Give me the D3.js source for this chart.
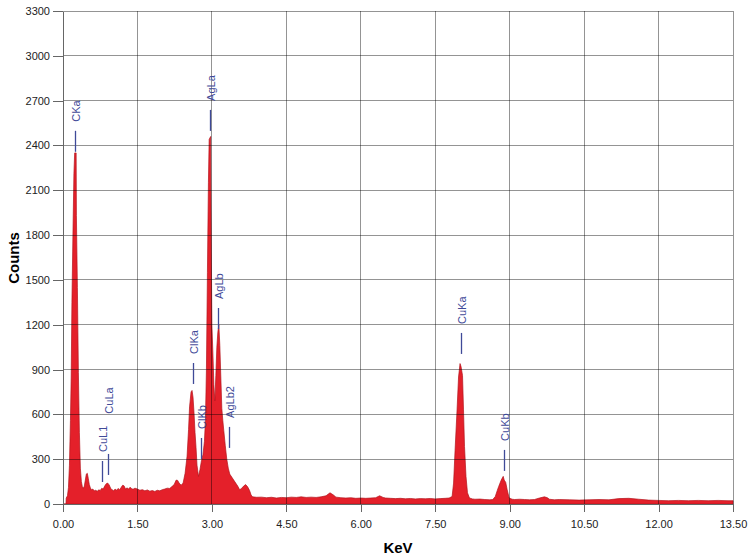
<!DOCTYPE html>
<html>
<head>
<meta charset="utf-8">
<script src="https://cdn.jsdelivr.net/npm/d3@7"></script>
<style>
  body { margin: 0; background: #fff; }
  svg { display: block; font-family: Arial, "Liberation Sans", sans-serif; }
</style>
</head>
<body>
<svg id="chart" width="754" height="558"></svg>
<script>
// EDS spectrum (keV vs counts)
const energyKeV = [
  0.00, 0.06, 0.065, 0.09, 0.11, 0.13, 0.15, 0.165, 0.18, 0.20, 0.22, 0.235, 0.265, 0.27, 0.29, 0.31, 0.33, 0.35, 0.37, 0.39,
  0.41, 0.43, 0.45, 0.47, 0.49, 0.51, 0.53, 0.55, 0.57, 0.60, 0.63, 0.66, 0.69, 0.72, 0.75, 0.78, 0.81, 0.84, 0.87, 0.90,
  0.93, 0.96, 0.99, 1.02, 1.05, 1.08, 1.11, 1.14, 1.17, 1.20, 1.23, 1.26, 1.29, 1.32, 1.35, 1.38, 1.41, 1.45, 1.50, 1.55,
  1.60, 1.65, 1.70, 1.75, 1.80, 1.85, 1.90, 1.95, 2.00, 2.05, 2.10, 2.15, 2.20, 2.24, 2.28, 2.31, 2.34, 2.38, 2.42, 2.46,
  2.50, 2.53, 2.55, 2.58, 2.60, 2.62, 2.64, 2.66, 2.68, 2.70, 2.73, 2.76, 2.79, 2.82, 2.85, 2.87, 2.89, 2.91, 2.93, 2.945,
  2.975, 2.98, 2.99, 3.00, 3.02, 3.04, 3.06, 3.08, 3.10, 3.12, 3.14, 3.16, 3.18, 3.20, 3.22, 3.24, 3.27, 3.30, 3.33, 3.36,
  3.40, 3.44, 3.48, 3.52, 3.56, 3.60, 3.64, 3.68, 3.72, 3.76, 3.79, 3.82, 3.90, 4.0, 4.1, 4.2, 4.3, 4.4, 4.5, 4.6,
  4.7, 4.8, 4.9, 5.0, 5.1, 5.2, 5.3, 5.38, 5.45, 5.5, 5.6, 5.7, 5.8, 5.9, 6.0, 6.1, 6.2, 6.3, 6.38, 6.45,
  6.5, 6.6, 6.7, 6.8, 6.9, 7.0, 7.1, 7.2, 7.3, 7.4, 7.5, 7.6, 7.7, 7.78, 7.84, 7.87, 7.90, 7.94, 7.97, 8.00,
  8.02, 8.05, 8.07, 8.09, 8.12, 8.15, 8.19, 8.25, 8.3, 8.4, 8.5, 8.6, 8.66, 8.71, 8.75, 8.78, 8.83, 8.87, 8.89, 8.92,
  8.95, 8.99, 9.05, 9.1, 9.2, 9.3, 9.4, 9.5, 9.6, 9.7, 9.76, 9.8, 9.9, 10.0, 10.2, 10.4, 10.6, 10.8, 11.0, 11.2,
  11.4, 11.6, 11.8, 12.0, 12.2, 12.4, 12.6, 12.8, 13.0, 13.2, 13.4, 13.5
];
const counts = [
  0, 0, 40, 55, 110, 260, 560, 850, 1350, 1800, 2210, 2350, 2350, 1930, 1450, 880, 480, 240, 150, 115,
  105, 120, 160, 200, 205, 170, 130, 110, 95, 100, 88, 92, 85, 95, 90, 105, 100, 120, 135, 140,
  128, 105, 95, 88, 100, 92, 104, 96, 110, 125, 122, 100, 108, 100, 112, 104, 98, 106, 100, 92,
  96, 88, 94, 86, 90, 84, 92, 88, 96, 100, 106, 104, 118, 130, 160, 158, 140, 126, 140, 205,
  320, 500, 650, 750, 760, 715, 610, 480, 380, 260, 185, 230, 290, 330, 420, 560, 900, 1550, 2150, 2440,
  2460, 2100, 1600, 1200, 1010, 800, 690, 860, 1050, 1150, 1200, 1060, 850, 640, 560, 490, 390, 300, 240, 200,
  180, 160, 140, 120, 95, 105, 120, 130, 115, 90, 60, 48, 45, 46, 42, 45, 40, 44, 42, 46,
  44, 48, 44, 46, 44, 48, 55, 75, 60, 46, 42, 40, 42, 38, 40, 38, 40, 42, 55, 44,
  40, 38, 36, 38, 35, 37, 34, 36, 35, 37, 34, 36, 38, 40, 50, 140, 360, 630, 850, 940,
  920, 860, 630, 385, 185, 75, 40, 34, 32, 33, 30, 28, 30, 50, 90, 118, 160, 185, 160, 145,
  95, 40, 32, 30, 32, 30, 28, 30, 40, 48, 42, 32, 28, 30, 28, 26, 28, 30, 28, 36,
  38, 32, 26, 24, 22, 24, 22, 24, 22, 24, 22, 22
];

// peak identifications: name, energy of marker, count level of marker top
const peakNames = ['CKa', 'CuL1', 'CuLa', 'ClKa', 'ClKb', 'AgLa', 'AgLb', 'AgLb2', 'CuKa', 'CuKb'];
const peakKeV = [0.248, 0.79, 0.907, 2.62, 2.79, 2.958, 3.13, 3.34, 8.025, 8.89];
const peakLevel = [2498, 288, 335, 944, 442, 2638, 1312, 516, 1145, 362];

const xTicks = [0, 1.5, 3, 4.5, 6, 7.5, 9, 10.5, 12, 13.5];
const yTicks = [0, 300, 600, 900, 1200, 1500, 1800, 2100, 2400, 2700, 3000, 3300];

const svg = d3.select('#chart');
const x = d3.scaleLinear().domain([0, 13.5]).range([63, 733]);
const y = d3.scaleLinear().domain([0, 3300]).range([504, 11]);

const spectrum = energyKeV.map((e, i) => ({ e, c: counts[i] }));

// spectrum fill
svg.append('path')
  .datum(spectrum)
  .attr('fill', '#e4202a')
  .attr('stroke', '#b3141c')
  .attr('stroke-width', 0.7)
  .attr('d', d3.area().x(d => x(d.e)).y0(y(0)).y1(d => y(d.c)));

// grid drawn over the spectrum, semi transparent like the original
const grid = svg.append('g')
  .attr('stroke', '#000')
  .attr('stroke-opacity', 0.42)
  .attr('shape-rendering', 'crispEdges');

grid.selectAll('.h')
  .data(yTicks.filter(d => d > 0))
  .enter().append('line')
  .attr('x1', x(0)).attr('x2', x(13.5))
  .attr('y1', d => y(d)).attr('y2', d => y(d));

grid.selectAll('.v')
  .data(xTicks.filter(d => d > 0))
  .enter().append('line')
  .attr('x1', d => x(d)).attr('x2', d => x(d))
  .attr('y1', y(0)).attr('y2', y(3300));

// axes
const yAxis = svg.append('g')
  .attr('transform', 'translate(' + x(0) + ',0)')
  .call(d3.axisLeft(y).tickValues(yTicks).tickSize(10).tickSizeOuter(0).tickPadding(3)
    .tickFormat(d3.format('d')));

const xAxis = svg.append('g')
  .attr('transform', 'translate(0,' + y(0) + ')')
  .call(d3.axisBottom(x).tickValues(xTicks).tickSize(8).tickSizeOuter(0).tickPadding(8)
    .tickFormat(d3.format('.2f')));

[yAxis, xAxis].forEach(a => {
  a.selectAll('path, line').attr('stroke', '#666').attr('shape-rendering', 'crispEdges');
  a.selectAll('text').attr('fill', '#222').attr('font-size', 11)
    .attr('font-family', 'Arial, "Liberation Sans", sans-serif');
});

// axis titles
svg.append('text')
  .attr('x', x(6.75)).attr('y', 553)
  .attr('text-anchor', 'middle')
  .attr('font-size', 15).attr('font-weight', 'bold')
  .text('KeV');

svg.append('text')
  .attr('transform', 'translate(19,258) rotate(-90)')
  .attr('text-anchor', 'middle')
  .attr('font-size', 15).attr('font-weight', 'bold')
  .text('Counts');

// peak markers and labels
const peaks = peakNames.map((n, i) => ({ n, e: peakKeV[i], c: peakLevel[i] }));
const peak = svg.append('g').selectAll('g')
  .data(peaks)
  .enter().append('g')
  .attr('transform', d => 'translate(' + Math.round(x(d.e)) + ',' + y(d.c) + ')');

peak.append('line')
  .attr('x1', 0.5).attr('x2', 0.5)
  .attr('y1', 0).attr('y2', 21)
  .attr('stroke', '#3f4a98')
  .attr('stroke-width', 1.3);

const label = peak.append('text')
  .attr('fill', '#3f4a98')
  .attr('font-size', 11)
  .text(d => d.n);

// place labels above their marker; lift a label over its neighbour only when the texts would overlap
let prev = null;
label.each(function(d) {
  const len = this.getComputedTextLength();
  const px = Math.round(x(d.e));
  let bottom = y(d.c) - 9;
  if (prev && px - prev.x < 11 && bottom > prev.top - 12 && bottom - len < prev.bottom) {
    bottom = prev.top - 12;
  }
  d3.select(this).attr('transform',
    'translate(4.5,' + (bottom - y(d.c)) + ') rotate(-90)');
  prev = { x: px, top: bottom - len, bottom };
});
</script>
</body>
</html>
